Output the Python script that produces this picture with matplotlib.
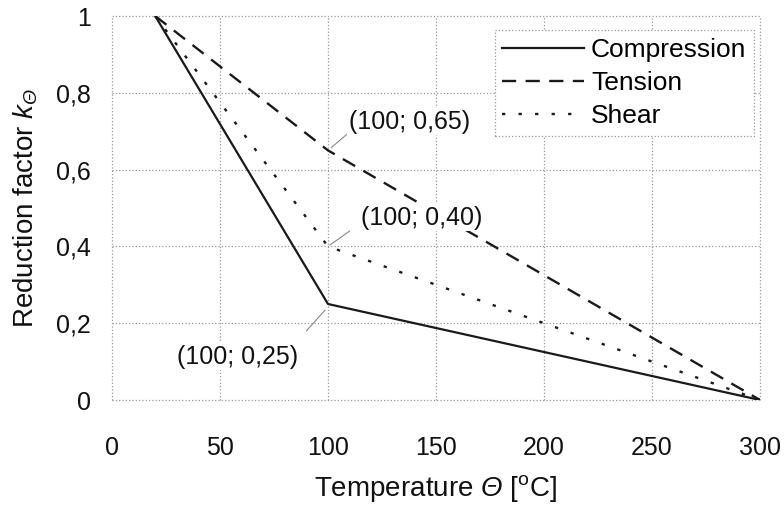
import matplotlib
matplotlib.use("Agg")
import matplotlib.pyplot as plt

plt.rcParams['font.family'] = ['Liberation Sans', 'DejaVu Sans']
plt.rcParams['mathtext.fontset'] = 'custom'
plt.rcParams['mathtext.rm'] = 'Liberation Sans'
plt.rcParams['mathtext.it'] = 'Liberation Sans:italic'
# 'it' forces capital Greek upright, so borrow the sf slot for an italic Theta
plt.rcParams['mathtext.sf'] = 'Liberation Sans:italic'

# data
temperature = [20, 100, 300]
compression = [1.0, 0.25, 0.0]
tension = [1.0, 0.65, 0.0]
shear = [1.0, 0.40, 0.0]

x_ticks = [0, 50, 100, 150, 200, 250, 300]
y_ticks = [0, 0.2, 0.4, 0.6, 0.8, 1.0]
y_ticklabels = ['0', '0,2', '0,4', '0,6', '0,8', '1']

# labelled break points: text, leader line start, leader line end, text position
notes = [
    ('(100; 0,65)', (101.5, 0.657), (111, 0.703), (109.5, 0.724), 'left'),
    ('(100; 0,40)', (101, 0.404), (110, 0.44), (115.5, 0.474), 'left'),
    ('(100; 0,25)', (98.6, 0.234), (90, 0.18), (58, 0.112), 'center'),
]

line_col = '#1a1a1a'

fig = plt.figure(figsize=(7.84, 5.08), dpi=100)
ax = fig.add_axes([112 / 784, 108 / 508, 648 / 784, 384 / 508])

ax.plot(temperature, compression, color=line_col, lw=1.6, label='Compression', zorder=3)
ax.plot(temperature, tension, color=line_col, lw=1.7, dashes=(6, 4), label='Tension', zorder=3)
ax.plot(temperature, shear, color=line_col, lw=1.7, dashes=(1.4, 5.6), label='Shear', zorder=3)

for txt, p0, p1, pt, ha in notes:
    ax.plot([p0[0], p1[0]], [p0[1], p1[1]], color='#888888', lw=0.8, zorder=4)
    ax.text(pt[0], pt[1], txt, fontsize=18, ha=ha, va='center', color='#111111', zorder=5,
            bbox=dict(facecolor='white', edgecolor='none', pad=1.0))

ax.set_xlim(0, 300)
ax.set_ylim(0, 1)
ax.set_xticks(x_ticks)
ax.set_yticks(y_ticks)
ax.set_yticklabels(y_ticklabels)
ax.tick_params(axis='both', length=0, labelsize=18, colors='#111111')
ax.tick_params(axis='y', pad=15)
ax.tick_params(axis='x', pad=26)

for sp in ax.spines.values():
    sp.set_visible(False)
ax.grid(True, color='#999999', linestyle=':', linewidth=0.9, clip_on=False)
ax.set_axisbelow(True)

ax.set_xlabel(r'Temperature $\mathsf{Θ}$ [$^{\mathrm{o}}$C]', fontsize=20, labelpad=9, color='#111111')
ax.set_ylabel(r'Reduction factor $k_{\mathsf{Θ}}$', fontsize=20, labelpad=12, color='#111111')

leg = ax.legend(loc='upper right', bbox_to_anchor=(0.991, 0.964), fontsize=19,
                handlelength=3.1, handletextpad=0.25, labelspacing=0.35,
                borderpad=0.3, borderaxespad=0, fancybox=False, framealpha=1)
leg.get_frame().set_edgecolor('#999999')
leg.get_frame().set_linestyle(':')
leg.get_frame().set_linewidth(0.9)

fig.savefig('out.png', dpi=100)
